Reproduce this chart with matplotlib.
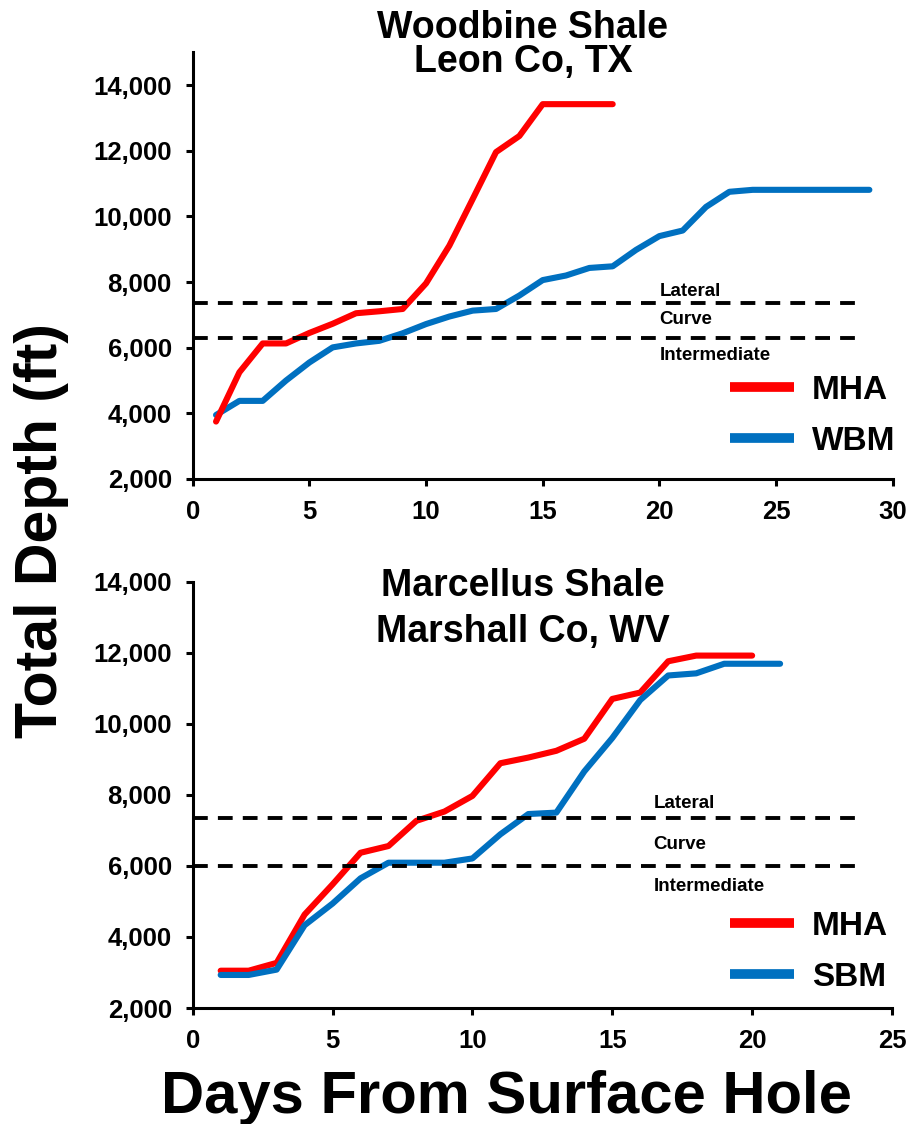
import matplotlib
matplotlib.use('Agg')
import matplotlib.pyplot as plt
from matplotlib.ticker import FuncFormatter, MultipleLocator

plt.rcParams['font.family'] = ['Liberation Sans', 'DejaVu Sans']
plt.rcParams['font.weight'] = 'bold'

# ---- data: Woodbine Shale, Leon Co, TX ----
top_days_mha = list(range(1, 19))
top_depth_mha = [3750, 5250, 6130, 6130, 6450, 6730, 7050, 7110, 7180, 7960,
                 9110, 10530, 11960, 12450, 13420, 13420, 13420, 13420]
top_days_wbm = list(range(1, 30))
top_depth_wbm = [3950, 4380, 4380, 5000, 5550, 6010, 6130, 6210, 6440, 6720,
                 6950, 7130, 7180, 7590, 8060, 8200, 8430, 8480, 8980, 9400,
                 9570, 10290, 10750, 10810, 10810, 10810, 10810, 10810, 10810]
top_zone_depths = [7365, 6290]          # lateral / curve boundaries
top_zone_end = 28.7

# ---- data: Marcellus Shale, Marshall Co, WV ----
bot_days_mha = list(range(1, 21))
bot_depth_mha = [3050, 3050, 3270, 4630, 5480, 6370, 6560, 7270, 7530, 7970,
                 8890, 9050, 9240, 9580, 10700, 10880, 11760, 11920, 11920, 11920]
bot_days_sbm = list(range(1, 22))
bot_depth_sbm = [2930, 2930, 3080, 4330, 4940, 5650, 6090, 6090, 6090, 6210,
                 6890, 7460, 7500, 8660, 9600, 10670, 11360, 11420, 11690, 11690, 11690]
bot_zone_depths = [7360, 6010]
bot_zone_end = 23.77

zone_labels = ['Lateral', 'Curve', 'Intermediate']
top_label_x = 20.0
top_label_y = [7720, 6855, 5756]
bot_label_x = 16.47
bot_label_y = [7756, 6611, 5434]

RED = '#FF0000'
BLUE = '#0070C0'

W, H = 912, 1124
fig = plt.figure(figsize=(W / 100, H / 100), dpi=100)

def px2fx(x):
    return x / W

def px2fy(y):
    return 1 - y / H

ax1 = fig.add_axes([px2fx(192.7), px2fy(479), px2fx(892.7 - 192.7), (479 - 52.3) / H])
ax2 = fig.add_axes([px2fx(192.7), px2fy(1008), px2fx(892.0 - 192.7), (1008 - 581.7) / H])

fmt = FuncFormatter(lambda v, p: f'{int(v):,}')

def style(ax, xmax, ymax):
    ax.set_xlim(0, xmax)
    ax.set_ylim(2000, ymax)
    ax.xaxis.set_major_locator(MultipleLocator(5))
    ax.yaxis.set_major_locator(MultipleLocator(2000))
    ax.yaxis.set_major_formatter(fmt)
    for s in ['top', 'right']:
        ax.spines[s].set_visible(False)
    for s in ['left', 'bottom']:
        ax.spines[s].set_linewidth(2.2)
    ax.tick_params(axis='both', direction='out', length=5, width=2.2,
                   labelsize=18.5, pad=10)
    for lab in ax.get_xticklabels() + ax.get_yticklabels():
        lab.set_fontweight('bold')

style(ax1, 30, 15000)
style(ax2, 25, 14000)

lw = 4.4
kw = dict(solid_capstyle='round', solid_joinstyle='round')
# top
ax1.plot(top_days_wbm, top_depth_wbm, color=BLUE, lw=lw, label='WBM', zorder=3, **kw)
ax1.plot(top_days_mha, top_depth_mha, color=RED, lw=lw, label='MHA', zorder=4, **kw)
for d in top_zone_depths:
    ax1.plot([0, top_zone_end], [d, d], color='black', lw=2.8, dashes=(3.8, 2.6), zorder=5)
for t, y in zip(zone_labels, top_label_y):
    ax1.text(top_label_x, y, t, fontsize=13.5, fontweight='bold', va='center', ha='left')

# bottom
ax2.plot(bot_days_mha, bot_depth_mha, color=RED, lw=lw, label='MHA', zorder=3, **kw)
ax2.plot(bot_days_sbm, bot_depth_sbm, color=BLUE, lw=lw, label='SBM', zorder=4, **kw)
for d in bot_zone_depths:
    ax2.plot([0, bot_zone_end], [d, d], color='black', lw=2.8, dashes=(3.8, 2.6), zorder=5)
for t, y in zip(zone_labels, bot_label_y):
    ax2.text(bot_label_x, y, t, fontsize=13.5, fontweight='bold', va='center', ha='left')

def add_legend(ax, order, top_px):
    handles, labels = ax.get_legend_handles_labels()
    hmap = dict(zip(labels, handles))
    leg = ax.legend([hmap[o] for o in order], order, loc='upper left',
                    bbox_to_anchor=(px2fx(730), px2fy(top_px)),
                    bbox_transform=fig.transFigure, frameon=False,
                    borderpad=0, borderaxespad=0, handlelength=1.92,
                    handletextpad=0.54, labelspacing=0.6,
                    prop={'size': 24, 'weight': 'bold'})
    for ln in leg.get_lines():
        ln.set_linewidth(7)
        ln.set_solid_capstyle('butt')
    return leg

add_legend(ax1, ['MHA', 'WBM'], 375)
add_legend(ax2, ['MHA', 'SBM'], 911)

# titles
fig.text(px2fx(523), px2fy(37.5), 'Woodbine Shale', fontsize=27, fontweight='bold',
         ha='center', va='baseline')
fig.text(px2fx(523), px2fy(72.5), 'Leon Co, TX', fontsize=27, fontweight='bold',
         ha='center', va='baseline')
fig.text(px2fx(523), px2fy(595.5), 'Marcellus Shale', fontsize=27, fontweight='bold',
         ha='center', va='baseline')
fig.text(px2fx(523), px2fy(642.5), 'Marshall Co, WV', fontsize=27, fontweight='bold',
         ha='center', va='baseline')

# axis labels
fig.text(px2fx(42), px2fy(531), 'Total Depth (ft)', fontsize=42.5, fontweight='bold',
         rotation=90, ha='center', va='center')
fig.text(px2fx(506), px2fy(1113), 'Days From Surface Hole', fontsize=43,
         fontweight='bold', ha='center', va='baseline')

fig.savefig('out.png', dpi=100)
